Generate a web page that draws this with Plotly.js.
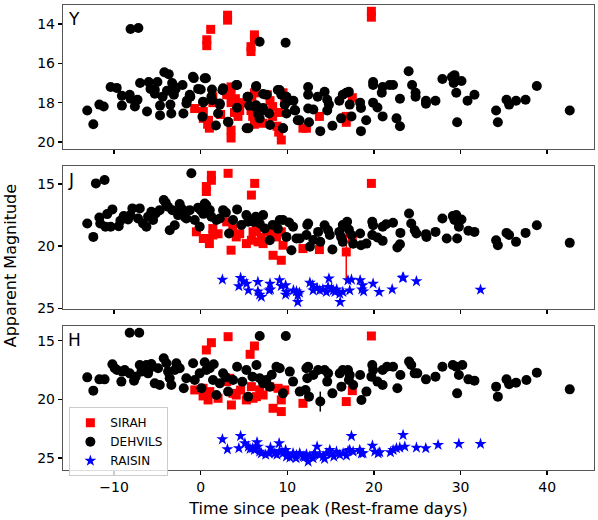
<!DOCTYPE html>
<html>
<head>
<meta charset="utf-8">
<script src="https://cdn.plot.ly/plotly-3.0.1.min.js"></script>
<style>
  body { margin: 0; background: #fff; }
  #plot { width: 598px; height: 520px; }
</style>
</head>
<body>
<div id="plot"></div>
<script>
// [time since peak (days), apparent magnitude, optional error]
var ySirah = [
    [0.7,14.8],[0.7,15.1],[1.15,14.27],[3.1,13.55],[3.1,13.8],[6.2,14.55],[6.2,14.75],[5.8,15.15],[5.8,15.4],
    [19.7,13.35],[19.7,13.65],
    [-0.7,18.3],[0.3,18.45],[0.3,18.8],[0.9,18.9],[1.0,19.3],[0.8,19.1],[1.4,17.7],[1.4,18.0],[3.0,17.6],
    [3.5,17.2],[3.5,17.55],[3.5,18.0],[3.9,18.5],[4.3,18.7],[3.5,19.4],[3.5,19.8],[4.7,18.0],[4.5,18.4],
    [5.9,17.7],[6.2,17.5],[5.8,18.4],[6.0,18.7],[6.2,19.1],[6.8,18.9],[7.2,19.05],[7.7,17.6],[8.0,17.9],
    [8.3,18.2],[8.3,18.7],[8.8,19.2],[9.0,19.5],[9.3,19.9],[9.5,17.5],[9.7,18.0],[9.0,18.5],[12.2,19.3],
    [11.8,19.3],[13.7,18.7],[16.8,18.7],[16.8,19.0],[17.5,17.75],[2.3,18.6],[4.0,17.8],[7.0,18.3]
];
var yDehvils = [
    [-13.1,18.4],[-12.4,19.1],[-11.7,18.1],[-11.2,18.2],[-10.4,17.2],[-9.7,17.25],[-9.1,17.65],[-9.1,18.15],
    [-8.2,17.6],[-8.1,17.8],[-7.6,18.2],[-7.3,17.85],[-8.1,14.25],[-7.2,14.2],[-7.0,17.0],[-6.2,18.45],
    [-6.0,16.95],[-5.8,17.3],[-5.3,17.35],[-5.0,16.95],[-5.3,17.55],[-4.7,18.15],[-4.7,18.65],[-4.2,16.45],
    [-3.7,16.55],[-4.4,17.7],[-3.9,17.4],[-3.3,17.0],[-3.0,17.2],[-3.1,17.6],[-3.5,18.1],[-3.4,18.55],
    [-2.9,17.3],[-2.0,18.55],[-2.1,17.1],[-1.6,17.9],[-1.2,17.7],[-0.8,16.75],[-0.9,16.68],[0.46,16.76],
    [-1.65,18.04],[-1.27,17.6],[0.27,17.95],[1.23,17.7],[2.2,18.04],[2.58,17.27],[4.1,17.1],[6.4,17.19],
    [5.46,17.7],[6.2,18.2],[6.6,18.55],[7.2,18.38],[7.6,17.6],[9.1,17.36],[9.9,17.7],[10.85,18.38],
    [3.15,18.97],[5.3,19.3],[9.5,19.3],[2.0,18.55],
    [0.2,18.72],[0.6,16.76],[-0.3,17.3],[0.0,17.33],[0.3,17.99],[1.3,17.33],[1.3,17.87],[1.75,19.16],
    [2.2,18.1],[2.5,17.37],[3.2,19.0],[4.2,17.1],[4.2,18.26],[5.4,17.7],[5.5,19.3],[5.6,18.15],[6.4,17.15],
    [7.2,17.56],[6.4,18.13],[6.8,18.4],[7.2,18.27],[6.8,18.8],[7.9,18.55],[8.0,19.14],[8.9,17.36],[9.3,17.6],
    [9.5,19.3],[9.7,18.1],[9.9,18.55],[10.2,17.9],[10.7,17.9],[10.9,18.4],[11.2,18.9],[6.8,14.9],[9.8,14.95],
    [11.4,18.9],[12.4,17.2],[12.4,17.6],[12.4,18.3],[12.5,19.0],[13.0,18.35],[13.5,17.7],[13.8,19.45],
    [14.3,17.45],[14.6,17.85],[14.8,18.1],[14.6,18.4],[15.2,19.18],[16.0,17.9],[16.4,17.6],[16.8,17.5],
    [17.1,17.45],[17.2,18.1],[16.2,18.8],[17.4,18.7],[18.4,18.0],[18.5,18.27],[18.5,19.45],[19.1,18.9],
    [19.9,16.95],[19.9,17.1],[19.9,18.0],[20.4,18.25],[21.0,17.2],[21.0,18.7],[20.9,17.5],[21.8,17.1],
    [22.2,17.1],[22.6,18.8],[23.0,19.2],[23.0,17.8],[24.0,16.4],[24.4,17.1],[24.8,17.5],[24.8,17.7],
    [26.0,17.9],[26.0,18.05],[27.1,17.9],[27.9,16.8],[29.0,16.7],[29.3,16.6],[29.2,17.0],[30.1,16.9],
    [29.5,17.5],[29.6,19.0],[30.8,17.9],[31.6,17.6],[34.1,18.4],[34.3,19.0],[35.3,17.85],[35.6,18.1],
    [36.4,17.9],[37.5,17.85],[38.8,17.15],[42.6,18.4]
];

var jSirah = [
    [0.65,15.2],[0.65,15.6],[1.23,14.3],[1.23,14.7],[3.16,14.14],[5.85,15.89],[6.23,14.95],[19.7,14.95],
    [-0.5,18.84],[0.3,19.38],[0.85,19.38],[1.0,19.79],[1.4,19.1],[1.4,18.58],[3.0,18.04],[3.7,18.58],
    [4.1,19.25],[3.5,20.32],[5.27,19.79],[5.85,19.52],[6.04,18.84],[6.43,18.58],[6.62,19.65],[7.2,19.79],
    [7.97,18.84],[8.35,20.73],[8.74,19.25],[9.3,21.13],[9.5,19.92],[9.3,18.84],[11.8,20.19],[13.7,20.27],
    [16.8,20.46,2.5],[17.5,19.38],[4.5,19.0],[7.0,19.3],[2.0,19.0]
];
var jDehvils = [
    [-13.1,18.17],[-12.4,19.25],[-12.1,14.95],[-11.1,14.68],[-11.7,17.69],[-11.6,18.17],[-11.0,18.44],
    [-10.8,17.42],[-10.2,17.04],[-10.4,18.44],[-9.47,18.39],[-9.28,17.96],[-8.89,17.58],[-8.39,17.85],
    [-8.12,17.5],[-7.89,16.96],[-7.24,17.77],[-7.04,16.96],[-6.66,18.17],[-6.27,18.44],[-6.08,17.63],
    [-5.7,17.23],[-5.5,17.9],[-5.2,17.37],[-4.73,17.1],[-4.27,16.29],[-4.04,16.5],[-3.77,16.83],
    [-3.58,18.71],[-3.27,17.1],[-3.0,18.31],[-2.62,17.5],[-2.43,16.61],[-2.23,16.96],[-1.85,17.63],
    [-1.08,14.14],[-1.66,17.77],[-1.27,17.1],[-0.69,17.9],[-0.12,18.44],[0.0,17.1],[0.46,16.56],
    [0.65,16.7],[1.04,17.1],[1.23,17.63],[1.81,17.9],[2.2,17.77],[2.58,17.1],[3.27,18.98],[3.73,17.9],
    [4.2,17.04],[5.27,17.5],[5.47,18.04],[6.04,18.04],[6.35,17.63],[6.81,18.17],[7.2,17.5],[7.39,18.58],
    [7.97,19.52],[9.12,17.9],[9.5,17.9],[9.89,19.25],[10.47,20.32],[10.66,18.44],[11.05,19.38],
    [-0.3,16.9],[0.3,17.4],[2.9,17.3],[4.7,18.3],[8.3,18.3],[8.9,18.6],[10.2,18.1],
    [11.43,19.38],[12.3,18.3],[12.4,18.17],[12.2,19.1],[12.6,20.05],[13.0,19.5],[13.55,18.85],[13.8,19.65],
    [14.3,18.31],[14.7,18.71],[14.9,19.1],[15.2,20.27],[16.0,18.85],[16.2,19.25],[16.4,19.65],[16.4,18.3],
    [16.9,18.04],[17.1,18.66],[17.4,19.1],[17.6,19.8],[18.4,18.98],[18.5,19.92],[19.13,19.79],[19.8,18.04],
    [19.9,18.31],[19.8,19.1],[20.4,19.3],[21.0,19.57],[21.0,18.44],[21.4,18.23],[22.2,18.12],[22.7,20.1],
    [23.0,19.84],[23.05,18.93],[24.05,17.37],[24.3,18.17],[24.7,18.71],[24.9,18.98],[26.0,19.03],
    [26.06,19.25],[27.1,18.85],[27.9,17.77],[28.4,19.38],[29.1,17.58],[29.5,17.5],[29.3,17.9],[30.1,17.85],
    [29.8,18.44],[29.6,19.38],[30.9,18.76],[31.6,18.85],[34.1,19.52],[34.3,19.92],[35.3,18.93],[35.6,19.1],
    [36.4,19.65],[37.5,18.93],[38.8,18.31],[42.6,19.73]
];
var jRaisin = [
    [2.5,22.69],[4.6,22.55],[4.4,23.22],[4.9,22.82],[5.5,23.55],[5.3,23.01],[6.6,22.87],[6.6,23.63],
    [7.0,24.08],[6.8,23.9],[8.0,23.01],[8.05,23.47],[7.9,23.55],[9.1,22.74],[9.3,23.2],[9.8,23.14],
    [9.9,23.68],[9.8,23.9],[10.7,23.55],[11.05,23.63],[11.2,24.49],[11.4,23.74],[11.2,23.95],[12.6,22.93],
    [12.9,23.14],[12.97,23.55],[13.43,23.36],[13.74,23.55],[14.1,23.47],[14.5,23.68],[14.8,22.6],
    [14.7,23.28],[15.1,23.41],[15.3,23.55],[15.5,23.68],[15.7,23.47],[16.05,23.82],[16.1,24.49],
    [16.4,23.68],[17.0,22.74],[17.4,22.69],[17.2,23.55],[18.4,22.74],[18.7,23.14],[18.6,23.47],
    [18.8,23.63],[19.9,23.01],[20.6,23.68],[22.1,23.47],[23.4,22.52],[23.3,22.55],[24.9,22.82],[32.3,23.5]
];

var hSirah = [
    [0.65,15.79],[1.23,15.17],[3.16,14.66],[5.7,16.16],[6.2,15.45],[-0.69,19.19],[0.27,19.7],[0.85,20.04],
    [0.27,19.05],[1.04,19.33],[3.0,18.48],[3.35,18.2],[3.73,19.48],[3.54,20.47],[4.1,19.62],[5.27,20.04],
    [5.85,18.91],[6.04,19.9],[6.43,19.76],[6.81,19.19],[7.2,19.62],[7.97,18.91],[8.35,20.75],[8.93,19.05],
    [9.3,21.03],[9.3,20.04],[9.7,19.19],[11.8,20.33],[16.8,20.18],[17.5,19.25],[19.7,14.6],[2.0,19.9],[4.6,19.2]
];
var hDehvils = [
    [-13.1,18.12],[-12.4,19.25],[-11.7,18.29],[-11.1,18.29],[-10.2,17.01],[-9.93,17.35],[-9.66,17.49],
    [-9.16,18.48],[-9.05,17.63],[-8.78,17.49],[-8.2,17.78],[-7.7,18.4],[-7.5,18.06],[-7.04,17.07],
    [-6.85,17.63],[-6.27,17.07],[-6.08,17.78],[-5.89,17.35],[-5.7,16.98],[-5.31,18.63],[-4.93,17.35],
    [-4.73,18.77],[-4.27,16.5],[-3.96,16.92],[-3.77,17.63],[-3.58,18.2],[-3.39,18.77],[-3.0,17.49],
    [-2.81,16.92],[-2.43,17.35],[-1.96,19.05],[-1.66,18.2],[-0.88,16.92],[-0.69,18.34],[-0.12,17.78],
    [0.08,19.05],[0.46,16.84],[0.65,17.49],[1.04,17.35],[1.42,18.34],[1.81,19.62],[2.2,18.63],[2.58,17.78],
    [3.16,19.33],[3.73,18.34],[4.2,17.21],[5.27,17.49],[5.47,19.76],[5.97,18.06],[6.43,17.07],[6.81,18.2],
    [7.2,18.63],[7.58,18.34],[7.97,18.91],[8.74,17.21],[9.12,17.35],[9.5,19.48],[9.82,14.6],[6.81,14.6],
    [-8.2,14.32],[-7.1,14.32],[10.28,17.63],[10.66,18.48],[1.5,17.0],[2.9,18.1],[4.8,18.5],[8.2,17.9],
    [11.43,19.33],[12.2,17.35],[12.4,17.21],[12.3,18.2],[12.1,19.19],[12.5,19.76],[13.0,17.92],[13.55,17.49],
    [13.8,20.18,0.85],[14.3,17.49],[14.7,17.78],[14.6,18.48],[15.2,19.48],[16.05,17.78],[16.24,18.91],
    [16.4,17.49],[17.0,17.49],[17.2,17.92],[17.1,18.34],[17.6,18.77],[18.4,17.92],[18.55,20.04,0.35],
    [19.13,19.33],[19.8,17.07],[19.9,17.49],[19.7,18.06],[20.4,18.48],[21.0,18.77],[21.0,17.49],[21.5,17.21],
    [22.2,17.21],[22.7,19.05],[23.05,17.92],[24.05,16.78],[24.3,17.07],[24.7,17.78],[25.0,17.78],[26.0,18.29],
    [27.1,18.06],[27.9,17.21],[29.1,17.07],[29.5,17.21],[30.2,17.07],[29.8,17.92],[29.6,19.48],[30.9,18.29],
    [31.6,18.4],[34.1,18.91],[34.3,19.76],[35.3,18.29],[35.6,18.71],[36.4,18.57],[37.6,18.34],[38.8,17.72],
    [42.6,19.14]
];
var hRaisin = [
    [2.5,23.39],[3.08,24.24],[4.6,23.11],[4.4,24.15],[5.1,23.73],[5.5,24.01],[5.7,24.21],[6.0,24.15],
    [6.5,23.64],[6.6,24.01],[6.8,24.44],[7.0,24.58],[7.9,24.58],[8.05,24.1],[8.3,24.44],[8.55,24.58],
    [9.05,23.73],[9.1,24.38],[9.5,24.58],[9.8,24.3],[9.9,24.86],[10.1,24.72],[10.66,24.58],[11.05,24.72],
    [11.43,24.58],[11.82,24.86],[12.2,24.66],[12.4,25.29],[12.59,24.86],[12.97,25.0],[13.17,24.58],
    [13.43,24.01],[13.74,24.72],[14.13,24.86],[14.51,24.58],[14.9,24.3],[15.09,24.66],[15.36,24.86],
    [15.67,24.44],[16.05,24.72],[16.44,24.58],[16.82,24.78],[17.01,24.38],[17.2,24.3],[17.4,23.11],
    [17.59,24.44],[18.36,24.3],[18.55,24.58],[18.74,24.58],[19.82,23.93],[20.09,24.44],[20.48,24.58],
    [20.67,24.49],[21.9,24.49],[22.21,24.3],[22.59,24.15],[22.98,24.1],[23.36,23.02],[23.56,24.01],
    [24.9,24.1],[25.98,24.15],[27.4,23.87],[29.8,23.78],[32.3,23.78],[11.0,25.0],[12.0,24.9],[13.0,24.75],
    [14.3,25.05],[10.3,24.95],[8.8,24.7],[6.2,24.3],[7.5,24.7]
];

var panelLabels = ["Y", "J", "H"];
var xTicks = [-10, 0, 10, 20, 30, 40];

var font = "DejaVu Sans, sans-serif";

function makeTrace(points, name, axisNum, style, showLegend) {
    var suffix = axisNum === 1 ? "" : String(axisNum);
    return {
        x: points.map(function (p) { return p[0]; }),
        y: points.map(function (p) { return p[1]; }),
        type: "scatter",
        mode: "markers",
        name: name,
        legendgroup: name,
        showlegend: showLegend,
        xaxis: "x" + suffix,
        yaxis: "y" + suffix,
        marker: {symbol: style.symbol, size: style.size, color: style.color, line: {width: 0}},
        error_y: {
            type: "data",
            array: points.map(function (p) { return p.length > 2 ? p[2] : 0.08; }),
            color: style.color,
            thickness: 1.5,
            width: 0,
            visible: true
        },
        cliponaxis: true
    };
}

var sirahStyle = {symbol: "square", size: 9, color: "#ff0000"};
var dehvilsStyle = {symbol: "circle", size: 10, color: "#000000"};
var raisinStyle = {symbol: "star", size: 9, color: "#0000ff"};

var data = [
    makeTrace(ySirah, "SIRAH", 1, sirahStyle, false),
    makeTrace(yDehvils, "DEHVILS", 1, dehvilsStyle, false),
    makeTrace(jSirah, "SIRAH", 2, sirahStyle, false),
    makeTrace(jDehvils, "DEHVILS", 2, dehvilsStyle, false),
    makeTrace(jRaisin, "RAISIN", 2, raisinStyle, false),
    makeTrace(hSirah, "SIRAH", 3, sirahStyle, true),
    makeTrace(hDehvils, "DEHVILS", 3, dehvilsStyle, true),
    makeTrace(hRaisin, "RAISIN", 3, raisinStyle, true)
];

var frame = {
    showline: true, mirror: true, linecolor: "#555", linewidth: 1.2,
    showgrid: false, zeroline: false,
    ticks: "outside", ticklen: 4, tickwidth: 1.5, tickcolor: "#000",
    tickfont: {family: font, size: 14, color: "#000"}
};

function axis(extra) {
    return Object.assign({}, frame, extra);
}

var layout = {
    width: 598,
    height: 520,
    margin: {l: 63, r: 4, t: 5, b: 50},
    paper_bgcolor: "#fff",
    plot_bgcolor: "#fff",
    font: {family: font, color: "#000"},
    xaxis: axis({anchor: "y", range: [-15.9, 45.4], tickvals: xTicks, showticklabels: false}),
    xaxis2: axis({anchor: "y2", range: [-15.9, 45.4], tickvals: xTicks, showticklabels: false}),
    xaxis3: axis({anchor: "y3", range: [-15.9, 45.4], tickvals: xTicks,
        title: {text: "Time since peak (Rest-frame days)", font: {family: font, size: 16}, standoff: 8}}),
    yaxis: axis({domain: [0.6903, 1], range: [20.36, 13.03], tickvals: [14, 16, 18, 20]}),
    yaxis2: axis({domain: [0.3462, 0.6538], range: [25.05, 13.55], tickvals: [15, 20, 25]}),
    yaxis3: axis({domain: [0, 0.3097], range: [26.0, 13.75], tickvals: [15, 20, 25]}),
    showlegend: true,
    legend: {
        x: 0.012, y: 0.135, xanchor: "left", yanchor: "top",
        bgcolor: "rgba(255,255,255,0.8)", bordercolor: "#ccc", borderwidth: 1,
        font: {family: font, size: 12}, itemwidth: 30, tracegroupgap: 0
    },
    annotations: [
        {text: "Apparent Magnitude", xref: "paper", yref: "paper", x: -0.1, y: 0.44,
         textangle: -90, showarrow: false, font: {family: font, size: 16}, xanchor: "center", yanchor: "middle"}
    ]
};

var axisRefs = ["x", "x2", "x3"];
var yRefs = ["y", "y2", "y3"];
panelLabels.forEach(function (label, i) {
    layout.annotations.push({
        text: label, xref: axisRefs[i] + " domain", yref: yRefs[i] + " domain",
        x: 0.005, y: 0.985, xanchor: "left", yanchor: "top", showarrow: false,
        font: {family: font, size: 17}
    });
});

Plotly.newPlot("plot", data, layout, {displayModeBar: false, staticPlot: true});
</script>
</body>
</html>
